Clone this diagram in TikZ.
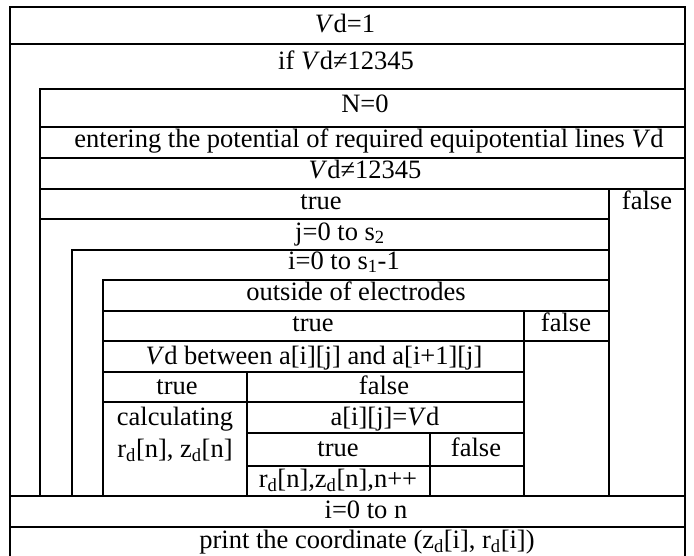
\documentclass[tikz,border=0pt]{standalone}
\usepackage{fontspec}
\setmainfont{Liberation Serif}
\tikzset{
  grid/.style={line width=2pt, line cap=rect},
  lbl/.style={anchor=base, inner sep=0pt, font=\fontsize{26.5}{30}\selectfont},
}
\newcommand{\Vd}{\textit{V}d}
\newcommand{\sbd}{\textsubscript{d}}
\begin{document}
\begin{tikzpicture}[x=1pt,y=-1pt]
\useasboundingbox (0,0) rectangle (694,555);
\fill[white] (0,0) rectangle (694,555);
% outer frame
\draw[grid] (10,556) -- (10,7) -- (685,7) -- (685,556);
\draw[grid] (10,44) -- (685,44);
\draw[grid] (10,496) -- (685,496);
\draw[grid] (10,527) -- (685,527);
% while body
\draw[grid] (40,496) -- (40,89) -- (685,89);
\draw[grid] (40,127) -- (685,127);
\draw[grid] (40,158) -- (685,158);
\draw[grid] (40,189) -- (685,189);
\draw[grid] (609,189) -- (609,496);
\draw[grid] (40,219) -- (609,219);
% j loop
\draw[grid] (72,496) -- (72,250) -- (609,250);
% i loop
\draw[grid] (103,496) -- (103,280) -- (609,280);
\draw[grid] (103,311) -- (609,311);
\draw[grid] (103,341) -- (609,341);
\draw[grid] (524,311) -- (524,496);
\draw[grid] (103,372) -- (524,372);
\draw[grid] (103,402) -- (524,402);
\draw[grid] (247,372) -- (247,496);
\draw[grid] (247,433) -- (524,433);
\draw[grid] (247,466) -- (524,466);
\draw[grid] (430,433) -- (430,496);
% texts
\node[lbl] (t1) at (345,32) {\Vd=1};
\node[lbl] (t2) at (346,69) {if \Vd≠12345};
\node[lbl] (t3) at (365,112) {N=0};
\node[lbl] (t4) at (369,147) {entering the potential of required equipotential lines \Vd};
\node[lbl] (t5) at (365,178) {\Vd≠12345};
\node[lbl] (t6) at (321,209) {true};
\node[lbl] (t7) at (647,209) {false};
\node[lbl] (t8) at (340,240) {j=0 to s\textsubscript{2}};
\node[lbl] (t9) at (344,269) {i=0 to s\textsubscript{1}-1};
\node[lbl] (t10) at (356,300) {outside of electrodes};
\node[lbl] (t11) at (313,331) {true};
\node[lbl] (t12) at (566,331) {false};
\node[lbl] (t13) at (314,364) {\Vd{} between a[i][j] and a[i+1][j]};
\node[lbl] (t14) at (177,394) {true};
\node[lbl] (t15) at (384,394) {false};
\node[lbl] (t16) at (175,425) {calculating};
\node[lbl] (t17) at (175,457) {r\sbd[n], z\sbd[n]};
\node[lbl] (t18) at (385,425) {a[i][j]=\Vd};
\node[lbl] (t19) at (338,456) {true};
\node[lbl] (t20) at (476,456) {false};
\node[lbl] (t21) at (338,487) {r\sbd[n],z\sbd[n],n++};
\node[lbl] (t22) at (366,518) {i=0 to n};
\node[lbl] (t23) at (367,548) {print the coordinate (z\sbd[i], r\sbd[i])};
\end{tikzpicture}
\end{document}
